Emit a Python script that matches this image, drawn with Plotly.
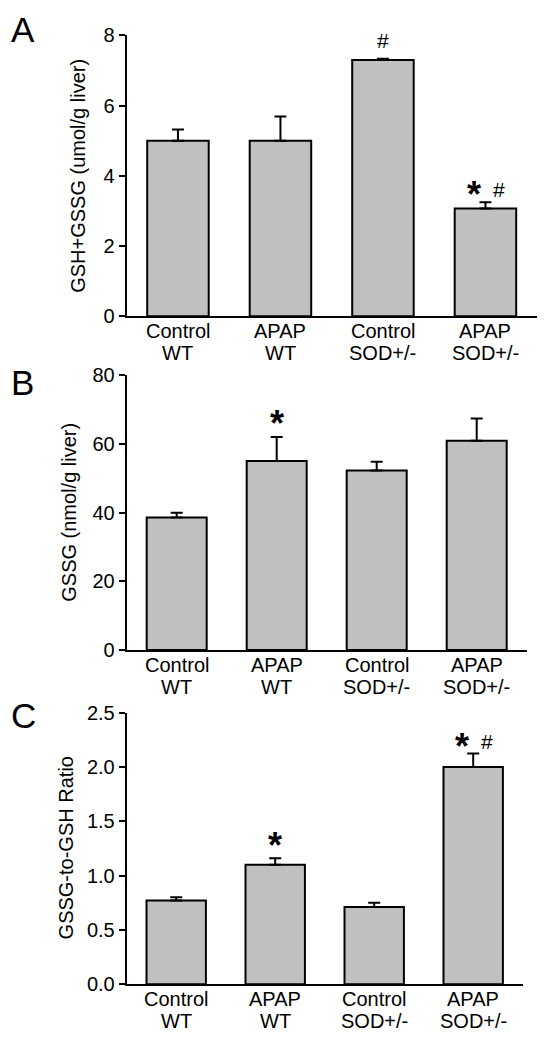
import plotly.graph_objects as go

treatment = ["Control", "APAP", "Control", "APAP"]
genotype = ["WT", "WT", "SOD+/-", "SOD+/-"]
categories = [f"{t} {g}" for t, g in zip(treatment, genotype)]

gsh_total = [5.0, 5.0, 7.30, 3.07]
gsh_total_err = [0.32, 0.69, 0.04, 0.18]

gssg = [38.6, 55.1, 52.3, 61.0]
gssg_err = [1.4, 7.0, 2.6, 6.5]

ratio = [0.77, 1.10, 0.71, 2.0]
ratio_err = [0.03, 0.06, 0.04, 0.125]

titles = ["GSH+GSSG (umol/g liver)", "GSSG (nmol/g liver)", "GSSG-to-GSH Ratio"]
panel_letters = ["A", "B", "C"]
y_ticks = [[0, 2, 4, 6, 8], [0, 20, 40, 60, 80], [0, 0.5, 1.0, 1.5, 2.0, 2.5]]
y_ranges = [[0, 8], [0, 80], [0, 2.5]]

# significance marks: (panel index, category index, symbol)
marks = [
    (0, 2, "#"),
    (0, 3, "*"), (0, 3, "#"),
    (1, 1, "*"),
    (2, 1, "*"),
    (2, 3, "*"), (2, 3, "#"),
]
# vertical nudges (px) for each mark, same order as marks
mark_shift = [5, -15, -1, -9, -10, -16, -2]

W, H = 545, 1050
FONT = "Liberation Sans, Arial, sans-serif"
BAR_FILL = "#c0c0c0"

# pixel layout
x_left = 126.7
x_rights = [536.7, 526.7, 522.7]
y_tops = [25.0, 372.3, 716.7]
y_bottoms = [311.7, 652.7, 994.0]
title_x = [78, 69, 66]
letter_y = [19, 379, 720]
label_dy = [15.0, 37.5]   # px below the x axis for the two label lines

values = [gsh_total, gssg, ratio]
errors = [gsh_total_err, gssg_err, ratio_err]

fig = go.Figure()
for i in range(3):
    xa = "x" if i == 0 else f"x{i+1}"
    ya = "y" if i == 0 else f"y{i+1}"
    fig.add_trace(go.Bar(
        x=categories, y=values[i], xaxis=xa, yaxis=ya,
        marker=dict(color=BAR_FILL, line=dict(color="black", width=2)),
        error_y=dict(type="data", array=errors[i], arrayminus=[0] * 4, symmetric=False,
                     color="black", thickness=2, width=6),
        hoverinfo="skip",
    ))

layout = dict(
    width=W, height=H, margin=dict(l=0, r=0, t=0, b=0),
    paper_bgcolor="white", plot_bgcolor="white", showlegend=False,
    bargap=0.4, font=dict(family=FONT, color="black"),
)
annotations = []
for i in range(3):
    xk = "xaxis" if i == 0 else f"xaxis{i+1}"
    yk = "yaxis" if i == 0 else f"yaxis{i+1}"
    xr = "x" if i == 0 else f"x{i+1}"
    ya = "y" if i == 0 else f"y{i+1}"
    layout[xk] = dict(
        domain=[x_left / W, x_rights[i] / W], anchor=ya, showline=True, linecolor="black",
        linewidth=2, ticks="", showgrid=False, zeroline=False, fixedrange=True,
        showticklabels=False, range=[-0.5, 3.5],
    )
    layout[yk] = dict(
        domain=[1 - y_bottoms[i] / H, 1 - y_tops[i] / H], anchor=xr,
        range=y_ranges[i], tickvals=y_ticks[i], showline=True, linecolor="black", linewidth=2,
        ticks="outside", ticklen=6, tickwidth=2, tickcolor="black", showgrid=False,
        zeroline=False, tickfont=dict(size=20, family=FONT, color="black"),
        tickformat=".1f" if i == 2 else "d", fixedrange=True,
    )
    annotations.append(dict(
        text=titles[i], xref="paper", yref="paper", x=title_x[i] / W,
        y=1 - (y_tops[i] + y_bottoms[i]) / 2 / H, textangle=-90, showarrow=False,
        xanchor="center", yanchor="middle", font=dict(size=20, family=FONT, color="black"),
    ))
    annotations.append(dict(
        text=panel_letters[i], xref="paper", yref="paper", x=9 / W, y=1 - letter_y[i] / H,
        showarrow=False, xanchor="left", yanchor="middle",
        font=dict(size=35, family=FONT, color="black"),
    ))
    for c in range(len(categories)):
        for line_txt, dy in zip([treatment[c], genotype[c]], label_dy):
            annotations.append(dict(
                text=line_txt, x=categories[c], xref=xr, yref="paper",
                y=1 - (y_bottoms[i] + dy) / H, showarrow=False,
                xanchor="center", yanchor="middle",
                font=dict(size=20, family=FONT, color="black"),
            ))

for k, (p, c, sym) in enumerate(marks):
    xr = "x" if p == 0 else f"x{p+1}"
    yr = "y" if p == 0 else f"y{p+1}"
    top = values[p][c] + errors[p][c]
    pair = sum(1 for m in marks if m[0] == p and m[1] == c) > 1
    xshift = 0
    if pair:
        xshift = -11 if sym == "*" else 14
    if sym == "*":
        annotations.append(dict(
            text="<b>*</b>", x=categories[c], y=top, xref=xr, yref=yr, showarrow=False,
            xanchor="center", yanchor="bottom", xshift=xshift, yshift=mark_shift[k],
            font=dict(size=36, family=FONT, color="black"),
        ))
    else:
        annotations.append(dict(
            text="#", x=categories[c], y=top, xref=xr, yref=yr, showarrow=False,
            xanchor="center", yanchor="bottom", xshift=xshift, yshift=mark_shift[k],
            font=dict(size=21, family=FONT, color="black"),
        ))

layout["annotations"] = annotations
fig.update_layout(**layout)
fig.write_html("out.html", config={"displayModeBar": False},
               post_script="document.body.style.margin='0';")
